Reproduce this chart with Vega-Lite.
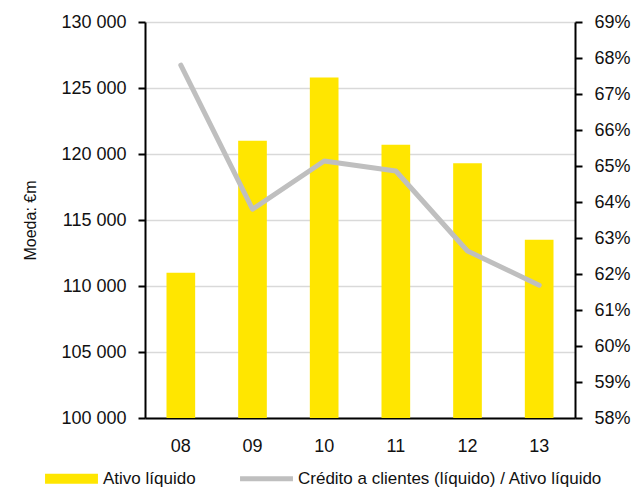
{
  "$schema": "https://vega.github.io/schema/vega-lite/v6.json",
  "width": 430,
  "height": 396,
  "autosize": {"type": "none"},
  "padding": {"left": 145, "top": 22, "right": 57, "bottom": 70},
  "config": {
    "font": "Liberation Sans",
    "view": {"stroke": null},
    "axis": {
      "labelFontSize": 18,
      "labelColor": "#111111",
      "titleFontSize": 16,
      "titleFontWeight": "normal",
      "titleColor": "#111111",
      "domainColor": "#000000",
      "domainWidth": 2,
      "tickColor": "#000000",
      "tickWidth": 2,
      "tickSize": 7
    }
  },
  "data": {
    "values": [
      {"ano": "08", "ativo": 111000, "racio": 0.678},
      {"ano": "09", "ativo": 121000, "racio": 0.638},
      {"ano": "10", "ativo": 125800, "racio": 0.6514},
      {"ano": "11", "ativo": 120700, "racio": 0.6486},
      {"ano": "12", "ativo": 119300, "racio": 0.6264},
      {"ano": "13", "ativo": 113500, "racio": 0.6169}
    ]
  },
  "encoding": {
    "x": {
      "field": "ano",
      "type": "nominal",
      "sort": null,
      "scale": {"paddingInner": 0.6, "paddingOuter": 0.3},
      "axis": {"title": null, "labelAngle": 0, "ticks": false, "labelPadding": 19, "grid": false}
    }
  },
  "layer": [
    {
      "mark": {"type": "bar", "clip": true},
      "encoding": {
        "y": {
          "field": "ativo",
          "type": "quantitative",
          "scale": {"domain": [100000, 130000], "zero": false, "nice": false},
          "axis": {
            "title": "Moeda: €m",
            "titlePadding": 22,
            "values": [100000, 105000, 110000, 115000, 120000, 125000, 130000],
            "labelExpr": "replace(format(datum.value, ','), ',', ' ')",
            "labelPadding": 12,
            "grid": true,
            "gridColor": "#d9d9d9",
            "gridWidth": 1.5
          }
        },
        "color": {
          "datum": "Ativo líquido",
          "type": "nominal",
          "scale": {
            "domain": ["Ativo líquido", "Crédito a clientes (líquido) / Ativo líquido"],
            "range": ["#FFE600", "#BFBFBF"]
          },
          "legend": {
            "title": null,
            "orient": "none",
            "direction": "horizontal",
            "legendX": -100,
            "legendY": 430,
            "labelFontSize": 17,
            "labelColor": "#111111",
            "labelLimit": 0,
            "labelOffset": 5,
            "columnPadding": 44,
            "symbolSize": 2800,
            "symbolType": "M-1,-0.2H1V0.2H-1Z",
            "symbolOpacity": 1,
            "symbolStrokeWidth": 0,
            "encode": {
              "symbols": {
                "update": {
                  "shape": {"signal": "datum.value === 'Ativo líquido' ? 'M-1,-0.19H1V0.19H-1Z' : 'M-1,-0.09H1V0.09H-1Z'"},
                  "fill": {"scale": "color", "field": "value"},
                  "opacity": {"value": 1},
                  "strokeWidth": {"value": 0}
                }
              }
            }
          }
        }
      }
    },
    {
      "mark": {"type": "line", "strokeWidth": 5, "strokeCap": "round", "strokeJoin": "round"},
      "encoding": {
        "y": {
          "field": "racio",
          "type": "quantitative",
          "scale": {"domain": [0.58, 0.69], "zero": false, "nice": false},
          "axis": {
            "orient": "right",
            "title": null,
            "format": ".0%",
            "values": [0.58, 0.59, 0.6, 0.61, 0.62, 0.63, 0.64, 0.65, 0.66, 0.67, 0.68, 0.69],
            "labelPadding": 12,
            "grid": false
          }
        },
        "color": {
          "datum": "Crédito a clientes (líquido) / Ativo líquido",
          "type": "nominal"
        }
      }
    }
  ],
  "resolve": {"scale": {"y": "independent"}}
}
